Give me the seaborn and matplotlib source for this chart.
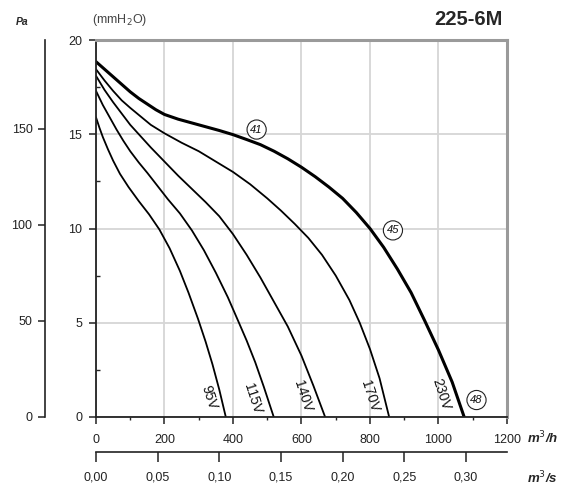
import numpy as np
import pandas as pd
import matplotlib
matplotlib.use("Agg")
import matplotlib.pyplot as plt
import seaborn as sns
from matplotlib.ticker import MultipleLocator, FuncFormatter

# fan curves (flow m3/h, pressure mmH2O)
q_95 = [0, 10, 20, 35, 50, 70, 95, 125, 155, 185, 215, 245, 270, 298, 320, 340, 360, 379]
p_95 = [15.9, 15.35, 14.85, 14.2, 13.6, 12.9, 12.2, 11.45, 10.75, 9.95, 8.95, 7.75, 6.6,
        5.2, 4.0, 2.8, 1.45, 0.0]

q_115 = [0, 20, 40, 60, 80, 100, 125, 150, 180, 210, 245, 280, 315, 350, 385, 415,
         440, 465, 490, 519]
p_115 = [17.3, 16.55, 15.9, 15.25, 14.65, 14.1, 13.5, 12.95, 12.25, 11.55, 10.8, 9.9,
         8.85, 7.65, 6.35, 5.1, 4.05, 2.9, 1.6, 0.0]

q_140 = [0, 25, 50, 75, 100, 130, 160, 200, 240, 280, 320, 360, 400, 440, 480, 520,
         560, 600, 635, 669]
p_140 = [18.1, 17.35, 16.7, 16.1, 15.5, 14.9, 14.3, 13.55, 12.8, 12.1, 11.4, 10.65,
         9.7, 8.6, 7.4, 6.1, 4.8, 3.25, 1.65, 0.0]

q_170 = [0, 25, 50, 75, 100, 130, 160, 200, 250, 300, 350, 400, 450, 500, 540, 580,
         620, 660, 700, 740, 770, 800, 828, 856]
p_170 = [18.45, 17.85, 17.3, 16.8, 16.4, 15.95, 15.5, 15.05, 14.55, 14.1, 13.55, 13.0,
         12.35, 11.6, 10.95, 10.25, 9.5, 8.6, 7.5, 6.2, 5.0, 3.6, 2.05, 0.0]

q_230 = [0, 25, 50, 75, 100, 125, 150, 175, 200, 240, 280, 320, 360, 400, 440, 480,
         520, 560, 600, 640, 680, 720, 760, 800, 840, 880, 920, 960, 1000, 1040, 1075]
p_230 = [18.85, 18.45, 18.05, 17.65, 17.25, 16.9, 16.6, 16.3, 16.05, 15.8, 15.6, 15.4,
         15.2, 14.98, 14.72, 14.45, 14.1, 13.7, 13.25, 12.75, 12.2, 11.6, 10.85, 10.0,
         9.0, 7.85, 6.6, 5.1, 3.55, 1.85, 0.0]

voltages = ["95V", "115V", "140V", "170V", "230V"]
flows = [q_95, q_115, q_140, q_170, q_230]
pressures = [p_95, p_115, p_140, p_170, p_230]

# circled noise figures on the 230V curve
noise_labels = ["41", "45", "48"]

x_ticks = [0, 200, 400, 600, 800, 1000, 1200]
y_ticks = [0, 5, 10, 15, 20]
pa_ticks = [0, 50, 100, 150]
m3s_ticks = [0.00, 0.05, 0.10, 0.15, 0.20, 0.25, 0.30]

sns.set_style("white")
plt.rcParams["font.family"] = ["Liberation Sans", "DejaVu Sans"]

fig = plt.figure(figsize=(5.63, 4.88), dpi=100)
ax = fig.add_axes([0.1705, 0.1455, 0.73, 0.7725])

for v, q, p in zip(voltages, flows, pressures):
    lw = 2.2 if v == "230V" else 1.3
    sns.lineplot(x=q, y=p, ax=ax, color="black", linewidth=lw, estimator=None, sort=False)

ax.set_xlim(0, 1200)
ax.set_ylim(0, 20)
ax.set_xticks(x_ticks)
ax.set_yticks(y_ticks)
ax.xaxis.set_minor_locator(MultipleLocator(100))
ax.yaxis.set_minor_locator(MultipleLocator(2.5))
ax.grid(True, which="major", color="#d6d6d6", linewidth=1.3)
ax.set_axisbelow(True)

for side in ["top", "right"]:
    ax.spines[side].set_color("#9a9a9a")
    ax.spines[side].set_linewidth(2.2)
for side in ["left", "bottom"]:
    ax.spines[side].set_color("#222222")
    ax.spines[side].set_linewidth(1.3)

ax.tick_params(axis="x", which="major", direction="out", length=5, width=1.1,
               colors="#222222", labelsize=9, pad=7, bottom=True)
ax.tick_params(axis="x", which="minor", direction="out", length=2, width=1, bottom=True)
ax.tick_params(axis="y", which="major", direction="out", length=5, width=1.1,
               colors="#222222", labelsize=9, pad=5, left=True)
ax.tick_params(axis="y", which="minor", direction="in", length=3, width=1, left=True)
ax.set_xlabel("")
ax.set_ylabel("")

# Pa scale on the far left
pa = ax.secondary_yaxis(-0.124, functions=(lambda y: y * 9.80665, lambda y: y / 9.80665))
pa.set_yticks(pa_ticks)
pa.spines["left"].set_color("#222222")
pa.spines["left"].set_linewidth(1.2)
pa.tick_params(direction="out", length=5, width=1.1, colors="#222222", labelsize=9, pad=4)

# m3/s scale below
qs = ax.secondary_xaxis(-0.093, functions=(lambda x: x / 3600.0, lambda x: x * 3600.0))
qs.set_xticks(m3s_ticks)
qs.xaxis.set_major_formatter(FuncFormatter(lambda v, _: f"{v:.2f}".replace(".", ",")))
qs.spines["bottom"].set_color("#222222")
qs.spines["bottom"].set_linewidth(1.2)
qs.tick_params(direction="out", length=7, width=1.1, colors="#222222", labelsize=9, pad=7)

# voltage labels along the lower ends of the curves
volt_pos = [(330, 1.05), (457, 0.95), (603, 1.1), (799, 1.1), (1009, 1.2)]
for v, (x, y) in zip(voltages, volt_pos):
    ax.text(x, y, v, rotation=-72, ha="center", va="center", fontsize=10, color="#111111")

noise_pos = [(469, 15.25), (867, 9.9), (1111, 0.9)]
for t, (x, y) in zip(noise_labels, noise_pos):
    ax.text(x, y, t, ha="center", va="center", fontsize=8, style="italic", color="#111111",
            bbox=dict(boxstyle="circle,pad=0.3", fc="white", ec="#222222", lw=0.8))

fig.text(0.039, 0.955, "Pa", fontsize=7.5, fontweight="bold", style="italic",
         ha="center", va="center")
fig.text(0.163, 0.959, "(mmH$_2$O)", fontsize=9, color="#444444", ha="left", va="center")
fig.text(0.892, 0.961, "225-6M", fontsize=14.5, fontweight="bold", ha="right", va="center")
fig.text(0.936, 0.1025, "m$^3$/h", fontsize=9.5, fontweight="bold", style="italic",
         ha="left", va="center")
fig.text(0.936, 0.0205, "m$^3$/s", fontsize=9.5, fontweight="bold", style="italic",
         ha="left", va="center")

fig.savefig("out.png", dpi=100)
